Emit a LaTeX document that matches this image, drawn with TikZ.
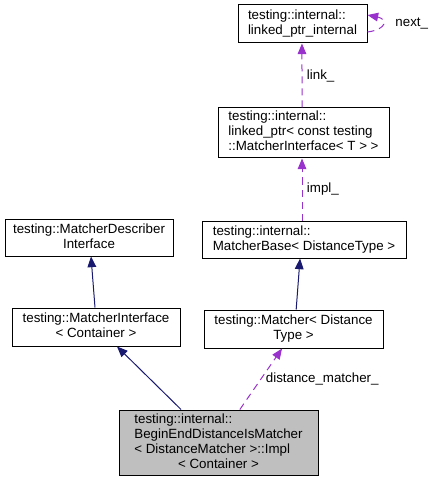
\documentclass[tikz,border=0pt]{standalone}
\usepackage{fontspec}
\setmainfont{Liberation Sans}
\usepackage{tikz}
\usetikzlibrary{positioning, arrows.meta}
\definecolor{inherit}{RGB}{25,25,112}
\definecolor{usage}{RGB}{153,50,204}
\definecolor{focusbg}{RGB}{191,191,191}
\newcommand{\ctrline}[1]{\multicolumn{1}{@{}c@{}}{#1}}
\tikzset{
  cls/.style={
    draw, line width=0.75pt, fill=white, inner sep=1pt,
    font=\fontsize{10}{11.25}\selectfont
  },
  focus/.style={cls, fill=focusbg},
  inh/.style={draw=inherit, line width=0.75pt, -{Triangle[length=8pt,width=6.5pt]}},
  use/.style={draw=usage, line width=0.75pt, dash pattern=on 5.25pt off 3.75pt,
    -{Triangle[length=8pt,width=6.5pt]}, font=\fontsize{10}{11.25}\selectfont},
}

\begin{document}
\begin{tikzpicture}[x=0.75pt, y=-0.75pt]
  \useasboundingbox (0,0) rectangle (435,477);
  \node[cls, minimum width=96.75pt, minimum height=28.5pt] (LPI) at (302.5,24)
    {\begin{tabular}{@{}l@{}}testing::internal::\\linked\_ptr\_internal\end{tabular}};
  \node[cls, minimum width=128.25pt, minimum height=37.5pt, below=48pt of LPI, xshift=0.75pt] (LP)
    {\begin{tabular}{@{}l@{}}testing::internal::\\linked\_ptr< const testing\\::MatcherInterface< T > >\end{tabular}};
  \node[cls, minimum width=153pt, minimum height=27.75pt, below=46.5pt of LP, xshift=0.4pt] (MB)
    {\begin{tabular}{@{}l@{}}testing::internal::\\MatcherBase< DistanceType >\end{tabular}};
  \node[cls, minimum width=134.25pt, minimum height=28.5pt, below=38.25pt of MB, xshift=-7.9pt] (M)
    {\begin{tabular}{@{}l@{}}testing::Matcher< Distance\\\ctrline{Type >}\end{tabular}};
  \node[cls, minimum width=126pt, minimum height=27.75pt] (MDI) at (89,237.5)
    {\begin{tabular}{@{}l@{}}testing::MatcherDescriber\\\ctrline{Interface}\end{tabular}};
  \node[cls, minimum width=126pt, minimum height=28.5pt, below=38.25pt of MDI, xshift=5.25pt] (MI)
    {\begin{tabular}{@{}l@{}}testing::MatcherInterface\\\ctrline{< Container >}\end{tabular}};
  \node[focus, minimum width=149.25pt, minimum height=48.75pt, below=45.75pt of M, xshift=-56.25pt] (IMPL)
    {\begin{tabular}{@{}l@{}}testing::internal::\\BeginEndDistanceIsMatcher\\< DistanceMatcher >::Impl\\\ctrline{< Container >}\end{tabular}};

  \path ([xshift=-0.75pt]MI.north) edge[inh] ([xshift=1.5pt]MDI.south)
        ([xshift=2pt]M.north) edge[inh] ([xshift=-3pt]MB.south)
        ([xshift=-28.1pt]IMPL.north) edge[inh] ([xshift=15.75pt]MI.south)
        ([xshift=16pt]IMPL.north) edge[use] node[right, black]{distance\_matcher\_} ([xshift=-8.6pt]M.south)
        ([xshift=-1.5pt]MB.north) edge[use] node[right, black]{impl\_} ([xshift=-1.1pt]LP.north |- LP.south)
        ([xshift=-1.1pt]LP.north) edge[use] node[right, black]{link\_} ([xshift=-0.4pt]LPI.south);
  \draw[use] ([yshift=-6pt]LPI.east) .. controls +(15pt,2pt) and +(15pt,-3pt) ..
    node[right, black, xshift=6pt]{next\_} ([yshift=6.75pt]LPI.east);
\end{tikzpicture}
\end{document}
